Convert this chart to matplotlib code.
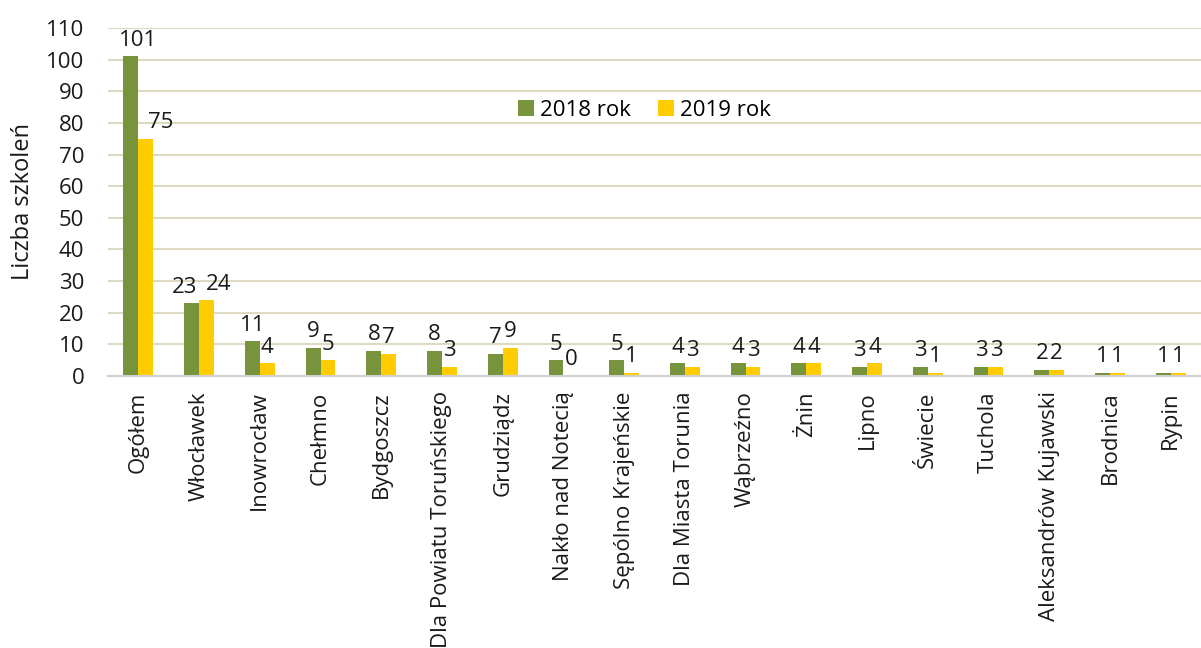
import numpy as np
import matplotlib
matplotlib.use("Agg")
import matplotlib.pyplot as plt

# ── Data ──────────────────────────────────────────────────────────────────────
categories = ["Ogółem", "Włocławek", "Inowrocław", "Chełmno", "Bydgoszcz",
              "Dla Powiatu Toruńskiego", "Grudziądz", "Nakło nad Notecią",
              "Sępólno Krajeńskie", "Dla Miasta Torunia", "Wąbrzeźno", "Żnin",
              "Lipno", "Świecie", "Tuchola", "Aleksandrów Kujawski",
              "Brodnica", "Rypin"]
values_2018 = [101, 23, 11, 9, 8, 8, 7, 5, 5, 4, 4, 4, 3, 3, 3, 2, 1, 1]
values_2019 = [75, 24, 4, 5, 7, 3, 9, 0, 1, 3, 3, 4, 4, 1, 3, 2, 1, 1]
series_labels = ["2018 rok", "2019 rok"]
y_ticks = list(range(0, 111, 10))

colors = ["#77933C", "#FFCC00"]

# label nudges (points) where the reference moved labels apart
nudge = {("Ogółem", 0): 5, ("Ogółem", 1): 11,
         ("Włocławek", 0): -5, ("Włocławek", 1): 9}

plt.rcParams["font.family"] = ["Open Sans", "DejaVu Sans"]

# ── Figure ────────────────────────────────────────────────────────────────────
fig = plt.figure(figsize=(12.01, 6.48), dpi=100)
ax = fig.add_axes([108 / 1201, 1 - 376 / 648, 1093 / 1201, 348 / 648])

x = np.arange(len(categories))
w = 0.245
bars1 = ax.bar(x - w / 2, values_2018, width=w, color=colors[0],
               label=series_labels[0], zorder=3)
bars2 = ax.bar(x + w / 2, values_2019, width=w, color=colors[1],
               label=series_labels[1], zorder=3)

for si, bars in enumerate((bars1, bars2)):
    for cat, b in zip(categories, bars):
        ax.annotate(f"{int(b.get_height())}",
                    (b.get_x() + b.get_width() / 2, b.get_height()),
                    xytext=(nudge.get((cat, si), 0), 4), textcoords="offset points",
                    ha="center", va="bottom", fontsize=16, color="#1a1a1a")

ax.set_xlim(-0.5, len(categories) - 0.5)
ax.set_ylim(0, 110)
ax.set_yticks(y_ticks)
ax.tick_params(axis="y", length=0, labelsize=16, pad=17, colors="#1a1a1a")
ax.set_xticks(x)
ax.set_xticklabels(categories, rotation=90, fontsize=16, color="#1a1a1a")
ax.tick_params(axis="x", length=0, pad=11)

ax.grid(axis="y", color="#DDD9C3", linewidth=1.5, zorder=0)
ax.set_axisbelow(True)
for s in ["top", "right", "left"]:
    ax.spines[s].set_visible(False)
ax.spines["bottom"].set_color("#D0D0D0")
ax.spines["bottom"].set_linewidth(1.5)
ax.spines["bottom"].set_zorder(4)

ax.set_ylabel("Liczba szkoleń", fontsize=17, color="#1a1a1a", labelpad=8)

ax.legend(loc="center", bbox_to_anchor=(0.491, 0.764), ncol=2, frameon=False,
          fontsize=16, handlelength=0.7, handleheight=0.7, handletextpad=0.3,
          columnspacing=1.2)

fig.savefig("out.png", dpi=100)
